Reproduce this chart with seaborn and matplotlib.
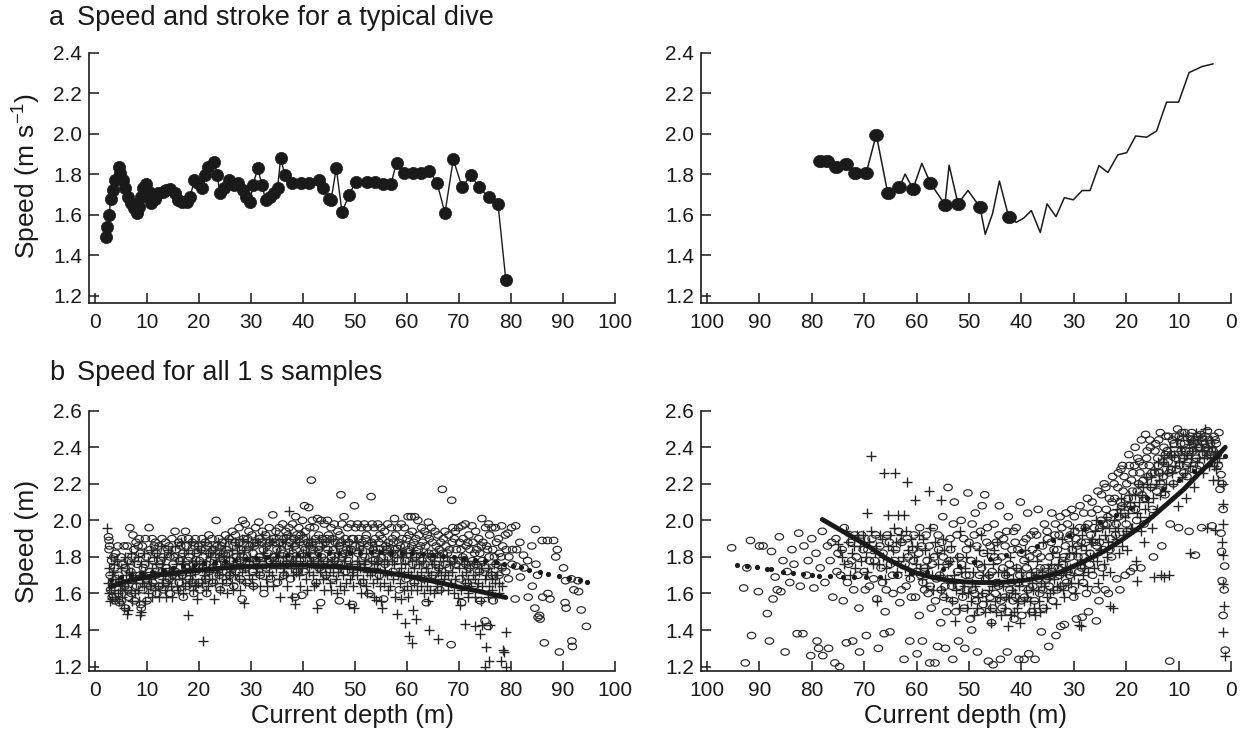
import matplotlib
matplotlib.use("Agg")
import matplotlib.pyplot as plt
from matplotlib.markers import MarkerStyle
from matplotlib.transforms import Affine2D
import seaborn as sns
import pandas as pd

# ---------------- data: panel a (typical dive) ----------------
TL_DEPTH = [2.06, 2.3, 2.75, 3.0, 3.4, 3.8, 4.6, 4.8, 5.3, 5.8, 6.3, 6.9, 7.5, 8.0, 8.4, 8.8, 9.3, 9.8,
            10.3, 10.8, 11.5, 12.1, 13.0, 13.7, 14.5, 15.3, 16.0, 16.8, 17.6, 18.3, 19.1, 19.8, 20.6,
            21.1, 21.8, 22.9, 23.5, 24.0, 24.8, 25.8, 26.7, 27.5, 28.4, 29.0, 29.8, 30.4, 31.3, 32.1,
            32.8, 33.6, 34.5, 35.1, 35.7, 36.5, 37.8, 39.7, 41.2, 43.1, 43.9, 45.0, 45.4, 46.4, 47.5,
            48.9, 50.1, 52.3, 53.8, 55.3, 56.9, 58.0, 59.5, 61.1, 62.6, 64.3, 65.8, 67.3, 68.9, 70.6,
            72.3, 73.8, 75.7, 77.5, 79.0]
TL_SPEED = [1.493, 1.542, 1.598, 1.677, 1.723, 1.770, 1.835, 1.805, 1.770, 1.730, 1.690, 1.657, 1.633,
            1.608, 1.640, 1.690, 1.730, 1.750, 1.715, 1.657, 1.680, 1.706, 1.715, 1.723, 1.726, 1.706,
            1.674, 1.665, 1.665, 1.690, 1.770, 1.756, 1.730, 1.797, 1.838, 1.863, 1.797, 1.710, 1.730,
            1.770, 1.748, 1.756, 1.723, 1.690, 1.665, 1.748, 1.830, 1.748, 1.674, 1.690, 1.706, 1.730,
            1.879, 1.797, 1.756, 1.756, 1.756, 1.770, 1.730, 1.680, 1.674, 1.830, 1.616, 1.698, 1.764,
            1.764, 1.764, 1.751, 1.751, 1.858, 1.805, 1.805, 1.805, 1.818, 1.756, 1.608, 1.874, 1.736,
            1.797, 1.736, 1.687, 1.654, 1.279]

TR_DEPTH = [78.4, 77.1, 75.3, 73.4, 71.7, 69.6, 67.7, 65.5, 63.3, 62.2, 60.7, 59.0, 57.4, 54.6, 53.8,
            52.1, 50.2, 47.9, 46.9, 45.5, 44.2, 42.4, 41.0, 39.6, 38.1, 36.4, 35.1, 33.4, 31.8, 30.1,
            28.4, 26.9, 25.2, 23.5, 21.6, 19.9, 18.2, 16.1, 14.2, 12.3, 10.0, 8.0, 5.5, 3.4]
TR_SPEED = [1.865, 1.865, 1.837, 1.849, 1.808, 1.808, 1.996, 1.706, 1.735, 1.801, 1.728, 1.854, 1.758,
            1.650, 1.845, 1.655, 1.720, 1.638, 1.504, 1.607, 1.767, 1.587, 1.563, 1.583, 1.621, 1.513,
            1.654, 1.591, 1.685, 1.674, 1.720, 1.720, 1.843, 1.809, 1.896, 1.907, 1.989, 1.983, 2.014,
            2.156, 2.156, 2.302, 2.332, 2.345]
TR_STROKE = [1, 1, 1, 1, 1, 1, 1, 1, 1, 0, 1, 0, 1, 1, 0, 1, 0, 1, 0, 0, 0, 1, 0, 0, 0, 0, 0, 0, 0, 0,
             0, 0, 0, 0, 0, 0, 0, 0, 0, 0, 0, 0, 0, 0]

# ---------------- data: panel b (all 1 s samples) ----------------
BL_CIRCLES = [
(2.6,1.91),(2.7,1.89),(2.8,1.86),(2.7,1.84),(2.9,1.70),(3.0,1.62),(3.2,1.78),(3.4,1.66),(3.3,1.58),
(3.8,1.74),(4.0,1.82),(3.9,1.56),(4.4,1.86),(4.6,1.70),(4.5,1.60),(4.7,1.55),(5.0,1.80),(5.2,1.66),(5.1,1.56),
(5.6,1.86),(5.8,1.74),(5.7,1.64),(5.9,1.52),(6.2,1.86),(6.4,1.78),(6.3,1.62),(6.5,1.58),
(6.7,1.96),(6.9,1.72),(7.0,1.60),(7.3,1.92),(7.5,1.84),(7.4,1.68),(7.6,1.56),(7.9,1.88),(8.1,1.76),(8.0,1.64),
(8.5,1.90),(8.7,1.82),(8.6,1.70),(8.8,1.54),(8.9,1.52),(9.1,1.86),(9.3,1.74),(9.2,1.62),
(9.7,1.90),(9.9,1.80),(9.8,1.68),(10.0,1.56),(10.4,1.96),(10.6,1.84),(10.5,1.72),(10.7,1.64),
(11.0,1.90),(11.2,1.78),(11.1,1.66),(11.6,1.88),(11.8,1.82),(11.7,1.70),(11.9,1.60),
(12.3,1.86),(12.5,1.76),(12.4,1.64),(12.9,1.90),(13.1,1.80),(13.0,1.72),(13.2,1.62),
(13.6,1.88),(13.8,1.74),(13.7,1.66),(14.2,1.86),(14.4,1.80),(14.3,1.68),(14.5,1.60),
(14.8,1.90),(15.0,1.76),(14.9,1.70),(15.4,1.94),(15.6,1.84),(15.5,1.72),(15.7,1.62),
(16.1,1.88),(16.3,1.78),(16.2,1.66),(16.7,1.90),(16.9,1.82),(16.8,1.70),(17.0,1.58),
(17.4,1.94),(17.6,1.86),(17.5,1.74),(17.7,1.64),(18.0,1.90),(18.2,1.80),(18.1,1.68),
(18.7,1.88),(18.9,1.76),(18.8,1.66),(19.0,1.60),(19.3,1.90),(19.5,1.82),(19.4,1.72),
(19.9,1.86),(20.1,1.78),(20.0,1.66),(20.2,1.62),(20.6,1.90),(20.8,1.80),(20.7,1.74),
(21.2,1.88),(21.4,1.76),(21.3,1.68),(21.5,1.60),(21.9,1.92),(22.1,1.82),(22.0,1.72),
(22.5,1.90),(22.7,1.84),(22.6,1.74),(22.8,1.66),(23.3,2.00),(23.5,1.86),(23.4,1.76),
(23.8,1.90),(24.0,1.80),(23.9,1.70),(24.1,1.62),(24.5,1.88),(24.7,1.82),(24.6,1.72),
(25.1,1.92),(25.3,1.84),(25.2,1.76),(25.4,1.66),(25.8,1.90),(26.0,1.78),(25.9,1.70),
(26.4,1.94),(26.6,1.86),(26.5,1.74),(26.7,1.64),(27.0,1.92),(27.2,1.80),(27.1,1.72),
(27.7,1.96),(27.9,1.88),(27.8,1.78),(28.0,1.68),(28.4,2.00),(28.6,1.90),(28.5,1.80),(28.3,1.57),
(28.9,1.98),(29.1,1.84),(29.0,1.74),(29.2,1.66),(29.6,1.94),(29.8,1.86),(29.7,1.76),
(30.2,1.92),(30.4,1.82),(30.3,1.72),(30.5,1.64),(30.9,1.96),(31.1,1.88),(31.0,1.78),
(31.5,1.99),(31.7,1.90),(31.6,1.80),(31.8,1.70),(32.2,1.94),(32.4,1.84),(32.3,1.76),(32.5,1.60),
(32.8,1.92),(33.0,1.86),(32.9,1.74),(33.5,1.96),(33.7,1.88),(33.6,1.78),(33.8,1.68),
(34.2,2.03),(34.4,1.90),(34.3,1.80),(34.8,1.94),(35.0,1.84),(34.9,1.76),(35.1,1.66),
(35.4,1.96),(35.6,1.88),(35.5,1.78),(36.1,1.98),(36.3,1.90),(36.2,1.82),(36.4,1.70),
(36.7,1.94),(36.9,1.86),(36.8,1.76),(37.3,1.96),(37.5,1.88),(37.4,1.80),(37.6,1.68),
(38.0,1.98),(38.2,1.90),(38.1,1.82),(38.6,2.02),(38.8,1.92),(38.7,1.84),(38.9,1.72),(38.5,1.58),
(39.2,1.96),(39.4,1.88),(39.3,1.78),(39.9,2.00),(40.1,1.90),(40.0,1.82),(40.2,1.72),(39.8,1.59),
(40.3,2.08),(40.5,1.94),(40.4,1.84),(41.1,2.07),(41.3,1.96),(41.2,1.86),(41.4,1.76),
(41.6,2.22),(41.8,2.00),(41.7,1.88),(41.9,1.80),(42.2,1.96),(42.4,1.90),(42.3,1.78),(42.5,1.66),
(42.8,2.01),(43.0,1.92),(42.9,1.84),(43.1,1.74),(43.5,2.00),(43.7,1.90),(43.6,1.80),(43.4,1.55),
(44.1,1.98),(44.3,1.88),(44.2,1.78),(44.4,1.70),(44.7,2.00),(44.9,1.92),(44.8,1.84),
(45.4,1.96),(45.6,1.90),(45.5,1.80),(45.7,1.68),(46.0,1.98),(46.2,1.88),(46.1,1.78),
(46.7,1.94),(46.9,1.86),(46.8,1.76),(47.0,1.56),(47.3,2.14),(47.5,1.98),(47.4,1.88),(47.6,1.80),
(47.9,2.02),(48.1,1.90),(48.0,1.82),(48.2,1.72),(48.6,1.96),(48.8,1.88),(48.7,1.78),
(49.2,1.98),(49.4,1.90),(49.3,1.84),(49.5,1.54),(49.9,2.08),(50.1,1.96),(50.0,1.86),(50.2,1.76),
(50.5,1.98),(50.7,1.90),(50.6,1.82),(51.2,1.96),(51.4,1.88),(51.3,1.78),(51.5,1.66),
(51.8,1.98),(52.0,1.90),(51.9,1.80),(52.4,1.96),(52.6,1.86),(52.5,1.76),(52.7,1.60),
(53.1,2.13),(53.3,1.98),(53.2,1.88),(53.4,1.78),(53.7,1.96),(53.9,1.90),(53.8,1.82),
(54.4,1.98),(54.6,1.88),(54.5,1.78),(54.7,1.70),(55.0,1.96),(55.2,1.90),(55.1,1.80),
(55.7,1.94),(55.9,1.86),(55.8,1.76),(55.5,1.57),(56.3,1.98),(56.5,1.88),(56.4,1.80),
(57.0,1.96),(57.2,1.90),(57.1,1.82),(57.3,1.72),(57.6,2.01),(57.8,1.92),(57.7,1.84),
(58.2,1.96),(58.4,1.88),(58.3,1.78),(58.5,1.62),(58.9,1.98),(59.1,1.90),(59.0,1.82),
(59.5,1.96),(59.7,1.86),(59.6,1.78),(59.8,1.68),(60.2,2.02),(60.4,1.92),(60.3,1.84),
(60.8,2.02),(61.0,1.94),(60.9,1.86),(61.1,1.76),(61.5,2.02),(61.7,1.90),(61.6,1.80),(61.4,1.66),
(62.1,2.00),(62.3,1.92),(62.2,1.84),(62.8,1.96),(63.0,1.88),(62.9,1.78),(63.1,1.68),
(63.4,1.94),(63.6,1.86),(63.5,1.76),(63.7,1.55),(64.1,1.99),(64.3,1.90),(64.2,1.82),
(64.7,1.96),(64.9,1.88),(64.8,1.80),(65.0,1.70),(65.4,1.94),(65.6,1.86),(65.5,1.76),
(66.0,1.92),(66.2,1.84),(66.1,1.74),(66.3,1.62),(66.8,2.17),(67.0,1.90),(66.9,1.82),
(67.3,1.94),(67.5,1.86),(67.4,1.76),(67.6,1.66),(68.0,1.92),(68.2,1.84),(68.1,1.74),
(68.6,2.11),(68.8,1.96),(68.7,1.88),(68.9,1.78),(68.5,1.32),(69.3,1.94),(69.5,1.84),(69.4,1.76),
(69.9,1.96),(70.1,1.88),(70.0,1.78),(70.2,1.68),(70.5,1.55),(70.6,1.97),(70.8,1.90),(70.7,1.80),
(71.2,1.98),(71.4,1.86),(71.3,1.76),(71.5,1.66),(71.9,1.92),(72.1,1.84),(72.0,1.74),
(72.5,1.97),(72.7,1.88),(72.6,1.78),(72.8,1.64),(73.2,1.94),(73.4,1.84),(73.3,1.76),
(73.8,1.90),(74.0,1.82),(73.9,1.72),(74.1,1.56),(74.4,2.01),(74.6,1.88),(74.5,1.78),
(75.1,1.96),(75.3,1.86),(75.2,1.74),(75.0,1.45),(75.7,1.98),(75.9,1.92),(75.8,1.80),(75.6,1.42),
(76.3,1.96),(76.5,1.84),(76.4,1.70),(76.6,1.56),(77.0,1.96),(77.2,1.88),(77.1,1.76),
(77.6,1.90),(77.8,1.82),(77.7,1.70),(78.2,1.97),(78.4,1.86),(78.3,1.74),
(78.9,1.92),(79.1,1.84),(79.0,1.72),(79.4,1.93),(79.6,1.80),(79.5,1.68),
(80.1,1.96),(80.3,1.84),(80.2,1.76),(80.9,1.97),(81.1,1.84),(81.0,1.75),(80.8,1.57),
(81.7,1.88),(81.8,1.69),(82.4,1.81),(82.5,1.74),(83.2,1.78),(83.3,1.58),(84.0,1.86),(84.1,1.64),
(84.7,1.95),(84.8,1.76),(84.6,1.52),(85.1,1.70),(85.2,1.47),(85.5,1.48),(85.6,1.46),
(86.0,1.89),(86.1,1.58),(86.4,1.33),(87.0,1.89),(87.1,1.60),(87.5,1.57),(88.2,1.89),
(88.9,1.84),(88.6,1.80),(89.3,1.28),(90.1,1.74),(90.5,1.67),(90.4,1.55),(90.6,1.52),
(91.6,1.68),(91.7,1.34),(91.8,1.31),(92.1,1.62),(92.9,1.67),(93.0,1.61),(93.5,1.51),(94.5,1.42),
(3.6,1.80),(5.4,1.76),(7.1,1.80),(8.3,1.86),(9.6,1.76),(11.4,1.86),(12.7,1.78),(14.0,1.84),
(15.2,1.80),(16.5,1.86),(17.9,1.78),(19.1,1.86),(20.4,1.84),(21.7,1.86),(23.0,1.80),(24.3,1.86),
(25.6,1.82),(26.9,1.88),(28.2,1.84),(29.4,1.90),(30.7,1.86),(32.0,1.88),(33.3,1.82),(34.6,1.88),
(35.9,1.84),(37.1,1.92),(38.4,1.86),(39.6,1.92),(40.9,1.88),(42.0,1.84),(43.3,1.86),(44.6,1.90),
(45.9,1.84),(47.1,1.92),(48.4,1.84),(49.7,1.90),(51.0,1.86),(52.2,1.92),(53.5,1.84),(54.8,1.92),
(56.1,1.84),(57.4,1.88),(58.7,1.86),(60.0,1.90),(61.3,1.88),(62.6,1.86),(63.9,1.92),(65.2,1.82),
(66.5,1.88),(67.8,1.82),(69.1,1.90),(70.4,1.84),(71.7,1.88),(73.0,1.82),(74.3,1.86),(75.5,1.84),
(76.8,1.80),(78.1,1.80)]

BL_CROSSES = [
(2.4,1.96),(2.6,1.74),(2.5,1.66),(2.7,1.60),(2.8,1.56),(3.0,1.80),(3.2,1.70),(3.1,1.62),(3.3,1.57),
(3.7,1.76),(3.9,1.66),(3.8,1.58),(4.3,1.78),(4.5,1.68),(4.4,1.60),(4.6,1.56),(5.0,1.74),(5.2,1.64),(5.1,1.58),
(5.7,1.80),(5.9,1.70),(5.8,1.62),(5.6,1.52),(6.2,1.76),(6.4,1.66),(6.3,1.51),(6.1,1.49),
(6.9,1.82),(7.1,1.72),(7.0,1.62),(7.2,1.56),(7.5,1.78),(7.7,1.68),(7.6,1.60),
(8.2,1.80),(8.4,1.70),(8.3,1.62),(8.5,1.56),(8.8,1.76),(9.0,1.66),(8.9,1.50),(8.7,1.48),
(9.4,1.82),(9.6,1.72),(9.5,1.64),(9.7,1.56),(10.1,1.78),(10.3,1.68),(10.2,1.60),
(10.7,1.84),(10.9,1.74),(10.8,1.66),(11.0,1.58),(11.4,1.80),(11.6,1.70),(11.5,1.62),
(12.0,1.82),(12.2,1.72),(12.1,1.64),(12.3,1.58),(12.7,1.86),(12.9,1.76),(12.8,1.66),
(13.3,1.80),(13.5,1.70),(13.4,1.62),(13.6,1.58),(14.0,1.84),(14.2,1.74),(14.1,1.66),
(14.6,1.82),(14.8,1.72),(14.7,1.64),(14.9,1.58),(15.3,1.86),(15.5,1.76),(15.4,1.68),
(15.9,1.80),(16.1,1.70),(16.0,1.62),(16.6,1.88),(16.8,1.78),(16.7,1.68),(16.9,1.60),
(17.2,1.82),(17.4,1.72),(17.3,1.64),(17.9,1.84),(18.1,1.74),(18.0,1.66),(17.8,1.48),
(18.5,1.88),(18.7,1.78),(18.6,1.68),(18.8,1.62),(19.1,1.82),(19.3,1.72),(19.2,1.64),
(19.8,1.86),(20.0,1.76),(19.9,1.66),(19.7,1.57),(20.4,1.84),(20.6,1.74),(20.5,1.66),(20.8,1.34),
(21.1,1.88),(21.3,1.78),(21.2,1.68),(21.4,1.62),(21.7,1.82),(21.9,1.72),(21.8,1.64),
(22.4,1.86),(22.6,1.76),(22.5,1.68),(22.9,1.57),(23.0,1.84),(23.2,1.74),(23.1,1.66),
(23.7,1.88),(23.9,1.80),(23.8,1.70),(24.0,1.62),(24.3,1.82),(24.5,1.74),(24.4,1.66),
(25.0,1.86),(25.2,1.76),(25.1,1.68),(25.3,1.60),(25.6,1.90),(25.8,1.80),(25.7,1.70),
(26.3,1.84),(26.5,1.76),(26.4,1.66),(26.6,1.62),(26.9,1.88),(27.1,1.78),(27.0,1.70),
(27.6,1.86),(27.8,1.76),(27.7,1.68),(27.9,1.62),(28.2,1.90),(28.4,1.80),(28.3,1.72),
(28.7,1.84),(28.9,1.74),(28.8,1.66),(28.6,1.55),(29.5,1.88),(29.7,1.78),(29.6,1.70),
(30.1,1.86),(30.3,1.76),(30.2,1.68),(30.4,1.64),(30.8,1.90),(31.0,1.80),(30.9,1.72),
(31.4,1.88),(31.6,1.78),(31.5,1.70),(31.7,1.64),(32.1,1.92),(32.3,1.82),(32.2,1.74),
(32.7,1.86),(32.9,1.76),(32.8,1.68),(33.0,1.64),(33.4,1.90),(33.6,1.80),(33.5,1.72),
(34.0,1.88),(34.2,1.78),(34.1,1.70),(34.3,1.64),(34.7,1.92),(34.9,1.82),(34.8,1.74),
(35.3,1.86),(35.5,1.76),(35.4,1.68),(35.6,1.58),(36.0,1.90),(36.2,1.80),(36.1,1.72),
(36.6,1.88),(36.8,1.78),(36.7,1.70),(36.9,1.64),(37.3,2.05),(37.5,1.92),(37.4,1.82),(37.6,1.74),
(37.9,1.86),(38.1,1.78),(38.0,1.70),(37.8,1.58),(38.5,1.90),(38.7,1.80),(38.6,1.72),(38.4,1.54),
(39.2,1.88),(39.4,1.78),(39.3,1.70),(39.5,1.64),(39.8,1.92),(40.0,1.82),(39.9,1.74),
(40.5,1.86),(40.7,1.76),(40.6,1.68),(40.8,1.62),(41.1,1.90),(41.3,1.80),(41.2,1.72),
(41.8,1.88),(42.0,1.78),(41.9,1.70),(42.1,1.64),(42.4,1.84),(42.6,1.74),(42.5,1.66),(42.7,1.52),
(43.1,1.90),(43.3,1.80),(43.2,1.72),(43.7,1.86),(43.9,1.76),(43.8,1.68),(44.0,1.62),
(44.4,1.88),(44.6,1.78),(44.5,1.70),(45.0,1.84),(45.2,1.74),(45.1,1.66),(45.3,1.62),
(45.7,1.90),(45.9,1.80),(45.8,1.72),(46.3,1.86),(46.5,1.76),(46.4,1.68),(46.6,1.60),
(47.0,1.82),(47.2,1.74),(47.1,1.64),(47.6,1.88),(47.8,1.78),(47.7,1.70),(47.9,1.62),
(48.2,1.84),(48.4,1.74),(48.3,1.66),(48.9,1.86),(49.1,1.76),(49.0,1.68),(48.8,1.54),
(49.5,1.82),(49.7,1.72),(49.6,1.64),(49.8,1.52),(50.2,1.88),(50.4,1.78),(50.3,1.70),
(50.8,1.84),(51.0,1.74),(50.9,1.66),(51.1,1.60),(51.5,1.86),(51.7,1.76),(51.6,1.68),
(52.1,1.82),(52.3,1.72),(52.2,1.64),(52.4,1.60),(52.8,1.88),(53.0,1.78),(52.9,1.70),
(53.4,1.84),(53.6,1.74),(53.5,1.66),(53.7,1.58),(54.1,1.86),(54.3,1.76),(54.2,1.68),(54.0,1.565),
(54.7,1.82),(54.9,1.72),(54.8,1.64),(55.0,1.56),(55.2,1.52),(55.4,1.84),(55.6,1.76),(55.5,1.66),
(56.0,1.86),(56.2,1.78),(56.1,1.70),(56.3,1.62),(56.7,1.82),(56.9,1.72),(56.8,1.64),
(57.3,1.84),(57.5,1.76),(57.4,1.68),(57.6,1.58),(58.0,1.80),(58.2,1.70),(58.1,1.49),
(58.6,1.84),(58.8,1.74),(58.7,1.66),(58.9,1.57),(59.3,1.80),(59.5,1.70),(59.4,1.62),(59.6,1.44),
(59.9,1.82),(60.1,1.72),(60.0,1.64),(60.2,1.58),(60.3,1.37),(60.6,1.80),(60.8,1.70),(60.7,1.62),(60.9,1.33),
(61.2,1.84),(61.4,1.74),(61.3,1.66),(61.1,1.51),(61.8,1.80),(62.0,1.70),(61.9,1.62),(61.7,1.46),
(62.5,1.82),(62.7,1.72),(62.6,1.64),(63.1,1.78),(63.3,1.68),(63.2,1.60),
(63.8,1.82),(64.0,1.72),(63.9,1.64),(64.1,1.56),(64.2,1.40),(64.4,1.80),(64.6,1.70),(64.5,1.62),
(65.1,1.78),(65.3,1.68),(65.2,1.60),(65.7,1.82),(65.9,1.72),(65.8,1.64),(66.0,1.35),
(66.4,1.80),(66.6,1.70),(66.5,1.62),(67.0,1.78),(67.2,1.68),(67.7,1.80),(67.9,1.70),(67.8,1.62),
(68.3,1.76),(68.5,1.66),(69.0,1.78),(69.2,1.68),(69.1,1.60),(69.8,1.574),
(70.2,1.537),(70.3,1.80),(70.5,1.70),(70.4,1.62),(70.9,1.76),(71.1,1.66),(71.1,1.433),
(71.6,1.78),(71.8,1.68),(71.7,1.60),(71.8,1.583),(72.2,1.74),(72.4,1.64),
(72.9,1.78),(73.1,1.68),(73.0,1.58),(73.0,1.42),(73.5,1.76),(73.7,1.66),(74.0,1.38),
(74.2,1.74),(74.4,1.64),(74.3,1.56),(74.4,1.43),(74.8,1.78),(75.0,1.68),(75.2,1.31),
(75.5,1.74),(75.7,1.64),(75.6,1.58),(75.8,1.23),(75.9,1.43),(76.1,1.72),(76.3,1.62),
(76.8,1.76),(77.0,1.66),(76.9,1.58),(77.4,1.70),(77.6,1.60),(78.0,1.74),(78.2,1.64),(78.0,1.23),
(78.5,1.29),(78.7,1.28),(79.0,1.39),(79.0,1.20),(75.0,1.20),
(3.5,1.72),(4.8,1.62),(6.6,1.72),(7.9,1.66),(9.2,1.68),(10.5,1.64),(11.8,1.76),(13.0,1.68),
(14.4,1.70),(15.7,1.64),(17.0,1.76),(18.3,1.70),(19.5,1.78),(20.9,1.70),(22.2,1.80),(23.5,1.72),
(24.8,1.78),(26.0,1.72),(27.3,1.82),(28.5,1.76),(29.9,1.80),(31.2,1.74),(32.5,1.80),(33.8,1.76),
(35.1,1.80),(36.4,1.74),(37.7,1.78),(39.0,1.74),(40.3,1.80),(41.6,1.76),(42.9,1.78),(44.2,1.74),
(45.5,1.78),(46.8,1.72),(48.1,1.80),(49.4,1.70),(50.7,1.76),(52.0,1.78),(53.2,1.72),(54.5,1.78),
(55.8,1.72),(57.1,1.78),(58.4,1.72),(59.7,1.76),(61.0,1.78),(62.3,1.76),(63.6,1.74),(64.9,1.76),
(66.2,1.74),(67.4,1.72),(68.7,1.72),(70.0,1.74),(71.3,1.72),(72.6,1.70),(73.8,1.72),(75.1,1.70),
(76.4,1.68),(77.7,1.66)]

BL_FIT_DEPTH = [3, 5, 8, 12, 16, 20, 25, 30, 35, 40, 45, 50, 55, 60, 65, 70, 75, 79]
BL_FIT_SPEED = [1.636, 1.658, 1.680, 1.700, 1.715, 1.728, 1.740, 1.748, 1.754, 1.755, 1.750, 1.738,
                1.720, 1.695, 1.667, 1.635, 1.605, 1.578]
BL_DOT_DEPTH = [3.0, 5.0, 7.0, 9.0, 11.0, 13.0, 15.0, 17.0, 19.0, 21.0, 23.0, 25.0, 27.0, 29.0, 31.0,
                33.0, 35.0, 37.0, 39.0, 41.0, 43.0, 45.0, 47.0, 49.0, 51.0, 53.0, 55.0, 57.0, 59.0,
                61.0, 63.0, 65.0, 67.0, 69.0, 71.0, 73.0, 75.0, 77.1, 78.7, 80.3, 81.9, 83.5, 85.5,
                87.1, 89.2, 91.2, 93.3, 94.7]
BL_DOT_SPEED = [1.675, 1.690, 1.700, 1.710, 1.720, 1.730, 1.740, 1.750, 1.755, 1.765, 1.770, 1.780,
                1.785, 1.790, 1.795, 1.800, 1.805, 1.810, 1.812, 1.815, 1.818, 1.820, 1.822, 1.823,
                1.824, 1.825, 1.825, 1.824, 1.822, 1.820, 1.816, 1.810, 1.805, 1.800, 1.795, 1.785,
                1.778, 1.770, 1.761, 1.752, 1.743, 1.730, 1.719, 1.707, 1.695, 1.683, 1.674, 1.665]

BR_CIRCLES = [
(95.3,1.85),(93.0,1.63),(92.7,1.22),(92.4,1.74),(91.7,1.89),(91.5,1.37),(90.2,1.61),(90.0,1.86),
(89.3,1.86),(88.5,1.49),(88.1,1.34),(87.7,1.83),(87.4,1.57),(87.0,1.69),(86.6,1.62),(86.2,1.91),
(85.9,1.61),(85.5,1.78),(85.1,1.28),(84.7,1.72),(84.2,1.66),(83.8,1.84),(83.4,1.76),(82.8,1.38),
(82.5,1.93),(82.2,1.64),(81.7,1.38),(81.5,1.86),(81.0,1.70),(80.7,1.78),(80.2,1.26),(80.0,1.90),
(79.6,1.63),(79.2,1.82),(79.0,1.34),(78.7,1.30),(78.4,1.74),(78.0,1.94),(77.9,1.26),(77.5,1.66),
(77.0,1.86),(76.8,1.30),(76.5,1.78),(76.0,1.58),(75.6,1.22),(75.4,1.90),(75.0,1.82),(74.7,1.20),
(74.5,1.70),(74.0,1.56),(73.8,1.96),(73.4,1.33),(73.0,1.76),(72.6,1.88),(72.2,1.34),(72.0,1.62),
(71.5,1.80),(71.0,1.52),(70.9,1.28),(70.5,1.92),(70.0,1.72),(69.6,1.37),(69.3,1.84),(69.0,1.64),
(68.5,1.90),(68.0,1.78),(67.6,1.57),(67.3,1.30),(67.0,1.86),(66.5,1.66),(66.2,1.38),(66.0,1.50),
(65.6,1.92),(65.1,1.39),(65.0,1.76),(64.5,1.60),(64.0,1.84),(63.6,1.70),(63.2,1.55),(62.8,1.88),
(62.4,1.24),(62.0,1.64),(61.6,1.80),(61.3,1.34),(61.0,1.58),(60.5,1.92),(60.0,1.72),(59.9,1.27),
(59.5,1.48),(59.0,1.86),(58.9,1.34),(58.5,1.62),(58.0,1.78),(57.5,1.22),(57.2,1.52),(56.8,1.96),
(56.5,1.22),(56.2,1.68),(56.0,1.31),(55.8,1.84),(55.4,1.44),(55.0,2.02),(54.8,1.58),(54.5,1.30),
(54.2,1.76),(54.0,2.18),(53.6,1.90),(53.3,1.64),(53.1,1.24),(52.8,2.10),(52.5,1.50),(52.0,1.34),
(51.8,1.80),(51.5,2.00),(51.2,1.58),(50.8,1.30),(50.6,1.70),(50.2,2.15),(50.0,1.88),(49.8,1.46),
(49.5,1.40),(49.2,1.62),(48.8,2.04),(48.4,1.28),(48.2,1.76),(47.8,1.94),(47.5,2.08),(47.3,1.54),
(47.0,2.14),(46.8,1.68),(46.3,1.23),(46.0,1.86),(45.7,1.44),(45.4,1.21),(45.2,1.98),(45.0,1.60),
(44.6,1.78),(44.2,2.08),(44.0,1.24),(43.7,1.52),(43.4,1.90),(43.0,1.70),(42.7,1.28),(42.5,2.02),
(42.2,1.62),(41.8,1.84),(41.4,1.46),(41.0,1.96),(40.8,1.74),(40.5,1.24),(40.2,2.10),(40.0,1.56),
(39.6,1.88),(39.5,1.24),(39.2,1.66),(38.8,2.04),(38.6,1.27),(38.4,1.80),(38.0,1.50),(37.6,1.94),
(37.4,1.24),(37.2,1.72),(36.8,2.06),(36.5,1.60),(36.2,1.39),(36.0,1.86),(35.6,1.98),(35.2,1.68),
(34.8,1.31),(34.6,1.80),(34.2,2.04),(34.0,1.56),(33.6,1.92),(33.4,1.37),(33.0,1.74),(32.6,2.02),
(32.5,1.42),(32.2,1.64),(31.8,1.43),(31.6,1.86),(31.2,1.98),(30.8,1.70),(30.4,2.06),(30.0,1.58),
(29.6,1.90),(29.5,1.46),(29.2,1.80),(28.8,2.08),(28.4,1.47),(28.2,1.66),(27.8,1.96),(27.4,2.12),
(27.2,1.50),(27.0,1.76),(26.6,2.04),(26.2,1.88),(25.8,1.62),(25.7,1.45),(25.4,2.16),(25.0,1.96),
(24.6,1.74),(24.2,2.20),(23.8,2.06),(23.4,1.60),(23.0,1.90),(22.6,2.24),(22.2,2.12),(21.8,1.68),
(21.4,2.02),(21.0,2.28),(20.6,2.16),(20.2,1.70),(19.8,1.94),(19.4,2.30),(19.0,2.22),(18.6,1.74),
(18.2,2.06),(17.8,2.34),(17.4,2.26),(17.0,2.14),(16.6,1.98),(16.3,2.47),(16.0,2.38),(15.6,2.30),
(15.2,2.18),(14.8,1.80),(14.4,2.42),(14.0,2.34),(13.6,2.26),(13.2,1.86),(12.8,2.40),(12.4,2.46),
(12.0,2.32),(11.7,1.23),(11.6,1.98),(11.2,2.44),(10.8,2.36),(10.4,2.28),(10.2,2.50),(10.0,1.96),
(9.6,2.42),(9.2,2.34),(8.8,2.48),(8.4,2.24),(8.0,1.94),(7.6,2.44),(7.2,2.38),(6.8,1.81),
(6.4,2.46),(6.0,2.30),(5.6,1.96),(5.2,2.42),(4.5,2.49),(4.0,2.36),(3.6,1.97),(3.0,2.44),
(2.3,2.48),(2.4,2.30),(1.9,2.25),(1.7,2.20),(2.1,2.17),(1.5,2.06),(1.9,1.93),(1.8,1.83),
(1.7,1.67),(1.5,1.48),(1.1,1.29),(1.3,1.62),(1.2,1.75),
(60.8,1.84),(59.2,1.70),(58.2,1.92),(57.8,1.60),(57.0,1.76),(55.6,1.70),(55.2,1.88),(54.6,1.64),
(53.8,1.78),(53.0,1.98),(52.2,1.72),(51.0,1.90),(50.4,1.62),(49.6,1.78),(49.0,1.92),(48.6,1.56),
(48.0,1.70),(47.2,1.82),(46.5,1.96),(46.0,1.58),(45.6,1.72),(44.8,1.88),(44.4,1.64),(43.8,1.80),
(43.2,1.58),(42.8,1.94),(42.0,1.72),(41.6,1.56),(41.2,1.88),(40.6,1.66),(40.0,1.82),(39.4,1.58),
(39.0,1.74),(38.2,1.92),(37.8,1.64),(37.0,1.82),(36.4,1.74),(35.8,1.52),(35.0,1.90),(34.4,1.70),
(33.8,1.84),(33.2,1.62),(32.8,1.92),(32.0,1.76),(31.4,1.66),(31.0,1.90),(30.6,1.80),(30.2,1.62),
(29.8,1.94),(29.0,1.72),(28.6,1.88),(28.0,1.80),(27.6,1.60),(26.8,1.92),(26.4,1.70),(25.6,1.86),
(25.2,1.56),(24.8,2.00),(24.4,1.84),(24.0,1.62),(23.6,1.98),(23.2,2.12),(22.8,1.80),(22.4,2.04),
(22.0,1.92),(21.6,2.18),(21.2,1.62),(20.8,2.08),(20.4,2.24),(20.0,1.98),(19.6,2.12),(19.2,1.72),
(18.8,2.16),(18.4,2.30),(18.0,2.00),(17.6,2.20),(17.2,1.74),(16.8,2.30),(16.4,2.12),(15.8,2.24),
(15.4,2.40),(15.0,2.06),(14.6,2.26),(14.2,2.16),(13.8,2.44),(13.4,2.20),(13.0,2.32),(12.6,2.14),
(12.2,2.38),(11.8,2.26),(11.4,2.36),(11.0,2.20),(10.6,2.46),(9.8,2.30),(9.4,2.48),(9.0,2.26),
(8.6,2.38),(8.2,2.32),(7.8,2.46),(7.4,2.28),(7.0,2.42),(6.6,2.34),(6.2,2.40),(5.8,2.47),
(5.4,2.36),(4.8,2.40),(4.2,2.44),(3.4,2.38),(2.8,2.42),
(76.2,1.88),(75.2,1.72),(74.2,1.84),(73.2,1.66),(72.4,1.78),(71.8,1.92),(71.2,1.70),(70.2,1.84),
(69.8,1.62),(69.0,1.78),(68.2,1.68),(67.8,1.92),(66.8,1.74),(66.4,1.82),(65.8,1.62),(65.2,1.88),
(64.6,1.70),(64.2,1.78),(63.4,1.94),(62.9,1.62),(62.2,1.76),(61.8,1.90),(61.2,1.68),(60.6,1.78),
(60.2,1.58),(59.6,1.82),(59.4,1.96),(58.8,1.66),(58.4,1.74),(57.6,1.86),(57.4,1.64),(56.6,1.80),
(56.4,1.56),(55.9,1.92),(55.3,1.62),(54.9,1.80),(54.3,1.50),(53.9,1.68),(53.5,1.84),(52.9,1.56),
(52.3,1.92),(51.9,1.64),(51.4,1.76),(50.9,1.52),(50.5,1.84),(49.9,1.70),(49.4,1.98),(48.9,1.60),
(48.5,1.86),(47.9,1.50),(47.6,1.74),(46.9,1.60),(46.6,1.88),(46.1,1.70),(45.5,1.52),(45.1,1.80),
(44.7,1.66),(44.3,1.92),(43.9,1.56),(43.5,1.74),(43.1,1.86),(42.6,1.50),(42.3,1.76),(41.9,1.66),
(41.5,1.94),(41.1,1.58),(40.7,1.84),(40.3,1.70),(39.9,1.48),(39.5,1.78),(39.1,1.90),(38.7,1.62),
(38.3,1.70),(37.9,1.84),(37.5,1.56),(37.1,1.92),(36.7,1.68),(36.3,1.80),(35.9,1.62),(35.5,1.74),
(35.1,1.94),(34.7,1.64),(34.3,1.88),(33.9,1.74),(33.5,1.98),(33.1,1.84),(32.7,1.70),(32.3,1.96),
(31.9,1.80),(31.5,2.04),(31.1,1.72),(30.7,1.92),(30.3,1.84),(29.9,2.02),(29.3,1.86),(28.9,1.96),
(28.5,1.74),(28.1,2.04),(27.7,1.88),(27.3,1.98),(26.9,1.82),(26.5,2.10),(26.1,1.96),(25.5,2.06),
(25.1,1.88),(24.7,2.14),(24.3,1.98),(23.9,2.18),(23.5,2.02),(23.1,1.84),(22.7,2.10),(22.3,2.20),
(21.9,1.98),(21.5,2.26),(21.1,2.10),(20.7,2.30),(20.3,2.04),(19.9,2.20),(19.5,2.36),(19.1,2.08),
(18.7,2.26),(18.3,2.40),(17.9,2.16),(17.5,2.32),(17.1,2.44),(16.7,2.22),(16.1,2.34),(15.5,2.44),
(15.1,2.26),(14.5,2.38),(13.9,2.30),(13.5,2.48),(12.9,2.24),(12.5,2.36),(11.9,2.46),(11.5,2.28),
(10.9,2.42),(10.5,2.34),(9.9,2.46),(9.5,2.38),(8.9,2.42),(8.5,2.30),(7.9,2.38),(7.5,2.48),
(6.9,2.44),(6.5,2.28),(5.9,2.40),(5.5,2.45),(4.9,2.46),(4.4,2.38),(3.9,2.42),(3.2,2.46),(2.6,2.36)]

BR_CROSSES = [
(68.8,2.35),(66.3,2.26),(64.2,2.26),(61.9,2.21),(60.3,2.11),(57.6,2.16),(55.4,2.11),(65.4,2.03),
(63.6,2.03),(62.5,2.03),(69.5,2.04),
(75.0,1.87),(74.2,1.80),(73.5,1.94),(72.8,1.70),(72.0,1.86),(71.3,1.92),(70.6,1.78),(70.0,1.88),
(69.4,1.72),(68.7,1.94),(68.0,1.82),(67.5,1.56),(67.2,1.76),(66.6,1.90),(66.0,1.68),(65.4,1.86),
(64.8,1.78),(64.4,1.96),(63.8,1.72),(63.2,1.88),(62.6,1.80),(62.0,1.94),(61.4,1.70),(60.8,1.86),
(60.2,1.76),(59.6,1.92),(59.0,1.68),(58.4,1.84),(58.0,1.74),(57.4,1.96),(56.8,1.62),(56.2,1.82),
(55.6,1.70),(55.0,1.90),(54.4,1.58),(54.0,1.76),(53.5,1.86),(53.0,1.66),(52.6,1.45),(52.2,1.80),
(51.8,1.94),(51.3,1.60),(50.8,1.74),(50.3,1.52),(49.8,1.86),(49.4,1.66),(49.0,1.48),(48.6,1.78),
(48.2,1.58),(47.8,1.92),(47.4,1.70),(47.0,1.50),(46.6,1.82),(46.2,1.62),(45.8,1.44),(45.4,1.76),
(45.0,1.56),(44.6,1.88),(44.2,1.66),(43.8,1.48),(43.4,1.72),(43.0,1.58),(42.6,1.42),(42.2,1.80),
(41.8,1.62),(41.4,1.50),(41.0,1.74),(40.6,1.56),(40.2,1.44),(39.8,1.68),(39.4,1.84),(39.0,1.58),
(38.6,1.50),(38.2,1.72),(37.8,1.62),(37.4,1.48),(37.0,1.78),(36.6,1.56),(36.2,1.66),(35.8,1.88),
(35.4,1.52),(35.0,1.74),(34.6,1.60),(34.2,1.82),(33.8,1.68),(33.4,1.54),(33.0,1.76),(32.6,1.64),
(32.2,1.90),(31.8,1.58),(31.4,1.72),(31.0,1.82),(30.6,1.66),(30.2,1.96),(29.8,1.60),(29.4,1.76),
(29.0,1.43),(28.6,1.86),(28.2,1.70),(27.8,1.96),(27.4,1.64),(27.0,1.80),(26.6,1.90),(26.2,1.74),
(25.8,2.00),(25.4,1.66),(25.0,1.84),(24.6,1.96),(24.2,1.76),(23.8,2.02),(23.4,1.88),(23.0,1.72),
(22.6,1.52),(22.2,1.94),(21.8,2.06),(21.4,1.82),(21.0,2.12),(20.6,1.92),(20.2,2.02),(19.8,1.84),
(19.4,2.14),(19.0,1.96),(18.6,2.08),(18.2,1.78),(17.8,2.20),(17.4,2.02),(17.0,2.14),(16.6,1.88),
(16.2,2.24),(15.8,2.10),(15.4,2.18),(15.0,1.96),(14.6,2.28),(14.2,2.06),(13.8,2.22),(13.4,1.70),
(13.0,2.32),(12.6,2.16),(12.2,2.26),(11.8,1.70),(11.4,2.36),(11.0,2.20),(10.6,2.30),(10.2,2.08),
(9.8,2.40),(9.4,2.24),(9.0,2.34),(8.6,2.12),(8.2,2.44),(7.8,2.30),(7.4,2.38),(7.0,2.18),
(6.6,2.48),(6.2,2.34),(5.8,2.42),(5.4,2.26),(5.0,2.50),(4.6,2.36),(4.2,2.30),(3.8,2.44),
(3.4,2.22),(3.0,2.38),(2.6,2.32),(7.8,1.82),(4.6,1.96),(3.0,1.95),
(14.7,1.69),(12.8,1.69),(17.9,1.67),(23.0,1.53),(28.6,1.42),
(1.6,2.20),(1.5,2.09),(1.6,1.98),(1.7,1.88),(1.6,1.81),(1.6,1.65),(1.4,1.53),(1.5,1.39),(1.2,1.26),
(74.6,1.84),(73.9,1.76),(73.1,1.88),(72.4,1.82),(71.7,1.74),(70.9,1.86),(70.3,1.92),(69.7,1.80),
(69.1,1.88),(68.4,1.76),(67.8,1.86),(67.0,1.92),(66.4,1.80),(65.8,1.74),(65.1,1.92),(64.6,1.84),
(64.0,1.88),(63.5,1.78),(62.9,1.92),(62.3,1.74),(61.7,1.84),(61.1,1.90),(60.5,1.80),(59.9,1.86),
(59.3,1.74),(58.7,1.90),(58.2,1.64),(57.7,1.80),(57.1,1.70),(56.5,1.88),(55.9,1.76),(55.3,1.62),
(54.7,1.84),(54.2,1.68),(53.7,1.78),(53.2,1.56),(52.8,1.70),(52.4,1.62),(51.9,1.52),(51.5,1.72),
(51.0,1.64),(50.5,1.80),(50.1,1.60),(49.6,1.56),(49.2,1.72),(48.8,1.64),(48.4,1.52),(48.0,1.84),
(47.6,1.60),(47.2,1.76),(46.8,1.56),(46.4,1.70),(46.0,1.52),(45.6,1.64),(45.2,1.84),(44.8,1.50),
(44.4,1.72),(44.0,1.58),(43.6,1.64),(43.2,1.52),(42.8,1.70),(42.4,1.58),(42.0,1.48),(41.6,1.68),
(41.2,1.60),(40.8,1.52),(40.4,1.64),(40.0,1.72),(39.6,1.56),(39.2,1.62),(38.8,1.78),(38.4,1.56),
(38.0,1.66),(37.6,1.52),(37.2,1.70),(36.8,1.62),(36.4,1.50),(36.0,1.72),(35.6,1.64),(35.2,1.58),
(34.8,1.68),(34.4,1.76),(34.0,1.62),(33.6,1.72),(33.2,1.64),(32.8,1.80),(32.4,1.70),(32.0,1.62),
(31.6,1.78),(31.2,1.66),(30.8,1.74),(30.4,1.86),(30.0,1.70),(29.6,1.82),(29.2,1.66),(28.8,1.76),
(28.4,1.92),(28.0,1.74),(27.6,1.84),(27.2,1.72),(26.8,1.88),(26.4,1.80),(26.0,1.94),(25.6,1.78),
(25.2,1.90),(24.8,1.84),(24.4,1.70),(24.0,1.92),(23.6,1.80),(23.2,1.96),(22.8,1.86),(22.4,2.00),
(22.0,1.90),(21.6,1.96),(21.2,2.04),(20.8,1.86),(20.4,2.08),(20.0,1.94),(19.6,2.04),(19.2,2.10),
(18.8,1.96),(18.4,2.14),(18.0,2.04),(17.6,2.10),(17.2,1.94),(16.8,2.18),(16.4,2.06),(16.0,2.20),
(15.6,2.02),(15.2,2.24),(14.8,2.12),(14.4,2.20),(14.0,2.32),(13.6,2.14),(13.2,2.26),(12.8,2.36),
(12.4,2.20),(12.0,2.30),(11.6,2.40),(11.2,2.26),(10.8,2.36),(10.4,2.44),(10.0,2.32),(9.6,2.38),
(9.2,2.46),(8.8,2.26),(8.4,2.36),(8.0,2.42),(7.6,2.34),(7.2,2.44),(6.8,2.40),(6.4,2.32),
(6.0,2.46),(5.6,2.38),(5.2,2.34),(4.8,2.44),(4.4,2.40),(4.0,2.34),(3.6,2.40),(3.2,2.30),
(2.8,2.28),(2.4,2.22),(2.2,2.34)]

BR_FIT_DEPTH = [78, 75, 72, 69, 66, 63, 60, 57, 54, 51, 48, 45, 42, 39, 36, 33, 30, 27, 24, 21, 18,
                15, 12, 9, 6, 3, 1.1]
BR_FIT_SPEED = [2.005, 1.955, 1.905, 1.855, 1.795, 1.750, 1.712, 1.688, 1.672, 1.664, 1.660, 1.660,
                1.664, 1.674, 1.690, 1.712, 1.750, 1.790, 1.835, 1.890, 1.950, 2.020, 2.095, 2.170,
                2.260, 2.340, 2.400]
BR_DOT_DEPTH = [94.2, 92.4, 90.4, 88.5, 87.7, 85.5, 83.5, 81.7, 80.0, 78.7, 76.5, 74.1, 72.0, 69.6,
                67.0, 64.0, 61.0, 58.0, 55.0, 52.0, 49.0, 46.0, 43.0, 40.0, 37.0, 34.0, 31.0, 28.0,
                25.0, 22.0, 19.0, 16.0, 13.0, 10.0, 7.0, 4.0, 1.1]
BR_DOT_SPEED = [1.758, 1.751, 1.743, 1.735, 1.734, 1.716, 1.712, 1.707, 1.700, 1.698, 1.693, 1.689,
                1.688, 1.689, 1.690, 1.700, 1.710, 1.720, 1.735, 1.750, 1.770, 1.790, 1.810, 1.835,
                1.860, 1.890, 1.920, 1.955, 1.990, 2.030, 2.070, 2.120, 2.170, 2.220, 2.270, 2.310,
                2.350]

TOP_YTICKS = [1.2, 1.4, 1.6, 1.8, 2.0, 2.2, 2.4]
BOT_YTICKS = [1.2, 1.4, 1.6, 1.8, 2.0, 2.2, 2.4, 2.6]
XTICKS = [0, 10, 20, 30, 40, 50, 60, 70, 80, 90, 100]

# ---------------- style ----------------
sns.set_style("ticks")
plt.rcParams['font.family'] = ['Liberation Sans', 'DejaVu Sans']
plt.rcParams['mathtext.fontset'] = 'custom'
plt.rcParams['mathtext.rm'] = 'Liberation Sans'
plt.rcParams['mathtext.it'] = 'Liberation Sans:italic'
plt.rcParams['mathtext.bf'] = 'Liberation Sans:bold'
plt.rcParams['axes.linewidth'] = 1.2
plt.rcParams['axes.edgecolor'] = '#1a1a1a'
INK = '#1a1a1a'

W, H = 1246, 736
fig = plt.figure(figsize=(W / 100, H / 100), dpi=100)


def px_axes(l, r, t, b):
    return fig.add_axes([l / W, 1 - b / H, (r - l) / W, (b - t) / H])


ax_tl = px_axes(89, 615, 52.7, 303)
ax_tr = px_axes(701, 1231, 52.7, 303)
ax_bl = px_axes(89, 615, 410.7, 671)
ax_br = px_axes(701, 1231, 410.7, 671)

# panel a left
df_tl = pd.DataFrame({"depth": TL_DEPTH, "speed": TL_SPEED})
sns.lineplot(data=df_tl, x="depth", y="speed", sort=False, estimator=None, color=INK, lw=1.0,
             marker="o", markersize=8.8, markerfacecolor=INK, markeredgecolor=INK,
             markeredgewidth=0.5, ax=ax_tl)

# panel a right
df_tr = pd.DataFrame({"depth": TR_DEPTH, "speed": TR_SPEED, "stroke": TR_STROKE})
sns.lineplot(data=df_tr, x="depth", y="speed", sort=False, estimator=None, color=INK, lw=1.1, ax=ax_tr)
ell_big = MarkerStyle("o", transform=Affine2D().scale(1.12, 1.0))
sns.scatterplot(data=df_tr[df_tr["stroke"] == 1], x="depth", y="speed", marker=ell_big, s=80,
                color=INK, edgecolor=INK, linewidth=0.5, ax=ax_tr, zorder=3)

# panel b
ell_small = MarkerStyle("o", transform=Affine2D().scale(1.3, 1.0))


def cloud(ax, circles, crosses, fit_d, fit_s, dot_d, dot_s):
    dfo = pd.DataFrame(circles, columns=["depth", "speed"])
    dfp = pd.DataFrame(crosses, columns=["depth", "speed"])
    sns.scatterplot(data=dfo, x="depth", y="speed", marker=ell_small, s=22, facecolor="none",
                    edgecolor="#262626", linewidth=0.85, ax=ax)
    sns.scatterplot(data=dfp, x="depth", y="speed", marker="+", s=58, color="#262626",
                    linewidth=1.0, ax=ax)
    sns.scatterplot(x=dot_d, y=dot_s, s=14, color=INK, edgecolor=INK, linewidth=0, ax=ax, zorder=3)
    sns.lineplot(x=fit_d, y=fit_s, sort=False, estimator=None, color=INK, lw=3.5, ax=ax, zorder=4)


cloud(ax_bl, BL_CIRCLES, BL_CROSSES, BL_FIT_DEPTH, BL_FIT_SPEED, BL_DOT_DEPTH, BL_DOT_SPEED)
cloud(ax_br, BR_CIRCLES, BR_CROSSES, BR_FIT_DEPTH, BR_FIT_SPEED, BR_DOT_DEPTH, BR_DOT_SPEED)


def style(ax, ylim, yticks, xlim):
    ax.set_xlim(*xlim)
    ax.set_ylim(*ylim)
    ax.set_xticks(XTICKS)
    ax.set_xticklabels([str(v) for v in XTICKS])
    ax.set_yticks(yticks)
    ax.set_yticklabels([f"{v:.1f}" for v in yticks])
    sns.despine(ax=ax)
    ax.tick_params(direction="in", length=7.5, width=1.1, labelsize=15, colors=INK)
    ax.tick_params(axis="x", pad=7)
    ax.tick_params(axis="y", pad=5)
    ax.set_xlabel("")
    ax.set_ylabel("")


style(ax_tl, (1.165, 2.4), TOP_YTICKS, (-1.15, 100))
style(ax_tr, (1.165, 2.4), TOP_YTICKS, (101.15, 0))
style(ax_bl, (1.176, 2.6), BOT_YTICKS, (-1.15, 100))
style(ax_br, (1.176, 2.6), BOT_YTICKS, (101.15, 0))

ax_bl.set_xlabel("Current depth (m)", fontsize=18.5, color=INK, labelpad=3)
ax_br.set_xlabel("Current depth (m)", fontsize=18.5, color=INK, labelpad=3)

fig.text(27 / W, 1 - 176 / H, r"Speed (m s$^{-1}$)", rotation=90, ha="center", va="center",
         fontsize=19, color=INK)
fig.text(27 / W, 1 - 541 / H, "Speed (m)", rotation=90, ha="center", va="center",
         fontsize=19, color=INK)

fig.text(49 / W, 1 - 18 / H, "a", fontsize=19.5, ha="left", va="center", color=INK)
fig.text(77 / W, 1 - 18 / H, "Speed and stroke for a typical dive", fontsize=19.5, ha="left",
         va="center", color=INK)
fig.text(49 / W, 1 - 373 / H, "b", fontsize=19.5, ha="left", va="center", color=INK)
fig.text(77 / W, 1 - 373 / H, "Speed for all 1 s samples", fontsize=19.5, ha="left",
         va="center", color=INK)

fig.savefig("out.png", dpi=100)
